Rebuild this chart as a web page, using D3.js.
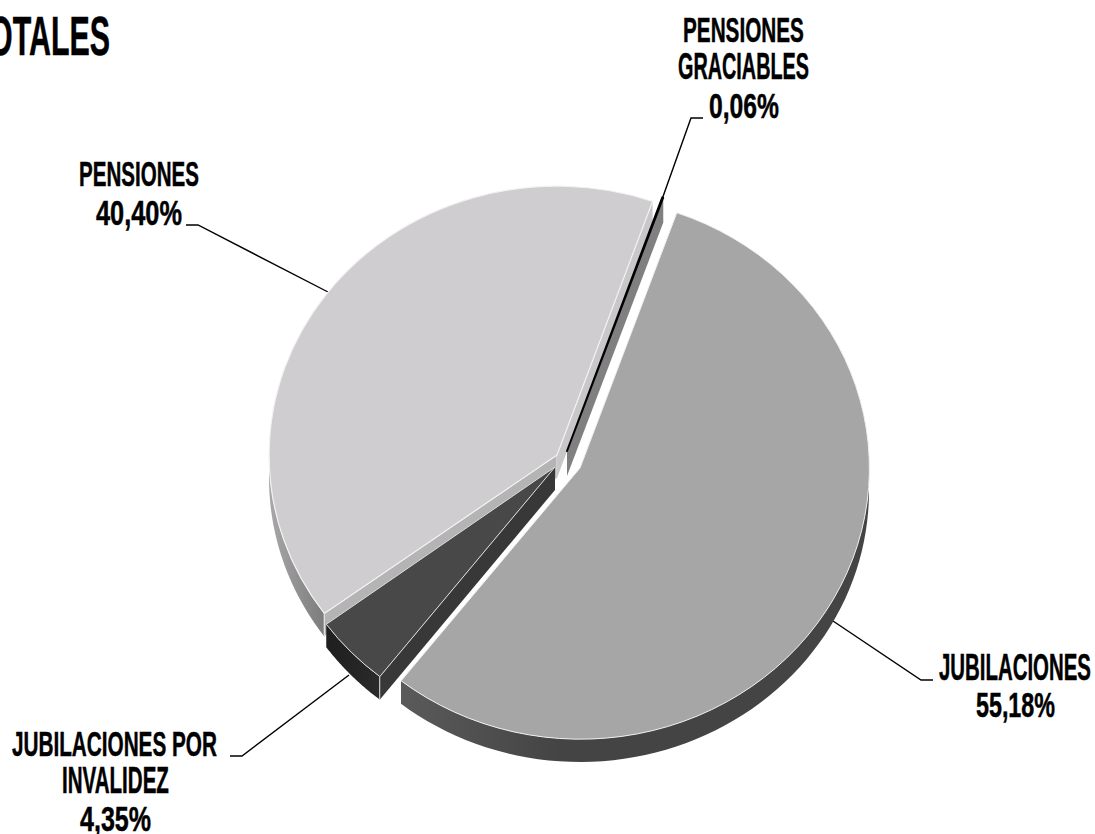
<!DOCTYPE html>
<html><head><meta charset="utf-8">
<script src="https://cdnjs.cloudflare.com/ajax/libs/d3/7.8.5/d3.min.js"></script>
<style>
html,body{margin:0;padding:0;background:#fff;overflow:hidden}
svg{display:block}
text{font-family:"Liberation Sans Narrow","Liberation Sans",sans-serif;font-weight:700;fill:#000;stroke:#000;stroke-width:.5px}
</style></head><body>
<svg id="c" width="1095" height="834"></svg>
<script>
// data
const categories = ["JUBILACIONES", "JUBILACIONES POR INVALIDEZ", "PENSIONES", "PENSIONES GRACIABLES"];
const values = [55.18, 4.35, 40.40, 0.06];
const titleText = "TOTALES";
const labelLines = [["JUBILACIONES"], ["JUBILACIONES POR", "INVALIDEZ"], ["PENSIONES"], ["PENSIONES", "GRACIABLES"]];
const percentLabels = values.map(v => v.toFixed(2).replace(".", ",") + "%");

// layout
const svg = d3.select("#c");
const rad = d => d * Math.PI / 180;
const geom = [
  {cx: 580, cy: 468, rx: 289, ry: 271, top: "#a6a6a6", wall: "url(#gJub)", depth: 23},
  {cx: 555, cy: 467, rx: 283, ry: 267, top: "#484848", wall: "url(#gInv)", side: "#383838", depth: 23},
  {cx: 557, cy: 455, rx: 288, ry: 269, top: "#cfcdcf", wall: "url(#gPen)", flank: "#b4b4b4", flankEnd: "#c9c7c9", depth: 23},
  {cx: 567, cy: 451, rx: 287, ry: 269, top: "#000000", wall: "#808080", depth: 25}
];
const labelPos = [
  [[939, 680, 152], [976, 717, 79]],
  [[12, 756, 205], [62, 793, 107], [80, 831, 71]],
  [[79, 186, 120], [96, 225, 86]],
  [[683, 42, 121], [678, 79, 131], [709, 118, 70]]
];
const leaders = [
  [[833, 621], [921, 680], [933, 680]],
  [[349, 675], [242, 756], [230, 756]],
  [[328, 292], [198, 225], [186, 225]],
  [[660, 205], [691, 118], [703, 118]]
];

const defs = svg.append("defs");
function grad(id, stops) {
  const g = defs.append("linearGradient").attr("id", id).attr("gradientUnits", "userSpaceOnUse")
    .attr("x1", stops.x1).attr("x2", stops.x2).attr("y1", 0).attr("y2", 0);
  stops.c.forEach((c, i) => g.append("stop").attr("offset", i / (stops.c.length - 1)).attr("stop-color", c));
}
grad("gJub", {x1: 403, x2: 560, c: ["#5a5a5a", "#444444"]});
grad("gInv", {x1: 324, x2: 378, c: ["#1e1e1e", "#2a2a2a"]});
grad("gPen", {x1: 269, x2: 324, c: ["#a8a8a8", "#7c7c7c"]});

const pie = d3.pie().sort(null).startAngle(rad(19.6)).endAngle(rad(19.6) + 2 * Math.PI);
const arcs = pie(values);
const arcGen = d3.arc().innerRadius(0).outerRadius(1);
const pt = (g, a, f = 1, dy = 0) => [g.cx + g.rx * f * Math.sin(a), g.cy - g.ry * f * Math.cos(a) + dy];
const line = d3.line();

function wallPath(g, a0, a1) {
  const n = 60, up = [], dn = [];
  for (let i = 0; i <= n; i++) {
    const a = a0 + (a1 - a0) * i / n;
    up.push(pt(g, a));
    dn.unshift(pt(g, a, 1, g.depth));
  }
  return line(up.concat(dn)) + "Z";
}
function quad(g, a) {
  const c = [g.cx, g.cy], e = pt(g, a);
  return line([c, e, [e[0], e[1] + g.depth], [c[0], c[1] + g.depth]]) + "Z";
}
function topFace(sel, g, d, stroke, sw) {
  sel.append("path")
    .attr("d", arcGen({startAngle: d.startAngle, endAngle: d.endAngle}))
    .attr("transform", `translate(${g.cx},${g.cy}) scale(${g.rx},${g.ry})`)
    .attr("fill", g.top).attr("stroke", stroke).attr("stroke-width", sw)
    .attr("vector-effect", "non-scaling-stroke").attr("stroke-linejoin", "round");
}
const [dJub, dInv, dPen, dGra] = arcs;
const [gJub, gInv, gPen, gGra] = geom;
const pie3d = svg.append("g");

// leader lines first (slices cover their ends)
svg.insert("g", "g").selectAll("path").data(leaders).join("path")
  .attr("d", d => line(d)).attr("fill", "none").attr("stroke", "#000").attr("stroke-width", 1.4);

// pensiones
pie3d.append("path").attr("d", wallPath(gPen, dPen.startAngle, rad(270))).attr("fill", gPen.wall);
pie3d.append("path").attr("d", quad(gPen, dPen.startAngle)).attr("fill", gPen.flank)
  .attr("stroke", "#eee").attr("stroke-width", 1);
pie3d.append("path").attr("d", quad(gPen, dPen.endAngle)).attr("fill", gPen.flankEnd);
topFace(pie3d, gPen, dPen, "#f2f2f2", 1.2);

// graciables
const e1 = pt(gGra, dGra.endAngle);
pie3d.append("path").attr("d", line([[gGra.cx, gGra.cy], e1, [e1[0], e1[1] + gGra.depth], [gGra.cx, gGra.cy + gGra.depth]]) + "Z").attr("fill", gGra.wall);
topFace(pie3d, gGra, dGra, "#000", 2);

// invalidez
pie3d.append("path").attr("d", wallPath(gInv, dInv.startAngle, dInv.endAngle)).attr("fill", gInv.wall);
pie3d.append("path").attr("d", quad(gInv, dInv.startAngle)).attr("fill", gInv.side);
topFace(pie3d, gInv, dInv, "#dcdcdc", 1);
{
  const c = pt(gInv, dInv.startAngle);
  pie3d.append("path").attr("d", line([c, [c[0], c[1] + gInv.depth]])).attr("stroke", "#ddd").attr("stroke-width", 1);
}

// jubilaciones
pie3d.append("path").attr("d", wallPath(gJub, rad(90), dJub.endAngle)).attr("fill", gJub.wall);
topFace(pie3d, gJub, dJub, "#efefef", 1);

// labels: each line is squeezed horizontally to the reference width
const textG = svg.append("g");
function fit(str, x, y, w, size) {
  const t = textG.append("text").attr("font-size", size).text(str);
  const natural = t.node().getComputedTextLength();
  t.attr("transform", `translate(${x},${y}) scale(${w / natural},1)`);
}
categories.forEach((c, i) => {
  const lines = labelLines[i].concat([percentLabels[i]]);
  lines.forEach((s, j) => {
    const [x, y, w] = labelPos[i][j];
    fit(s, x, y, w, 36);
  });
});
fit(titleText, -29, 55, 139, 55);
</script>
</body></html>
